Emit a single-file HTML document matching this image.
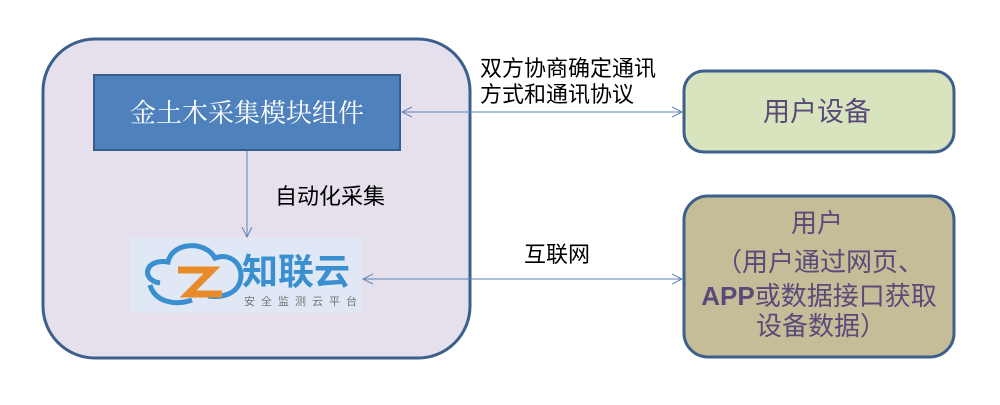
<!DOCTYPE html>
<html><head><meta charset="utf-8"><style>
body{margin:0;width:1000px;height:400px;background:#fff;overflow:hidden;font-family:"Liberation Sans","Noto Sans CJK SC",sans-serif}
</style></head><body>
<svg width="1000" height="400" xmlns="http://www.w3.org/2000/svg">
<defs>
<marker id="a" markerWidth="12" markerHeight="12" refX="10" refY="6" orient="auto-start-reverse" markerUnits="userSpaceOnUse">
<path d="M0,1 L10,6 L0,11" fill="none" stroke="#5b83b8" stroke-width="1"/></marker>
</defs>
<rect x="43" y="39" width="427" height="319" rx="52" fill="#e5e0ec" stroke="#3d5f8c" stroke-width="3"/>
<rect x="94" y="75" width="306" height="75" fill="#4f81bd" stroke="#385d8a" stroke-width="2"/>
<text x="247" y="122" font-size="26" fill="#fff" text-anchor="middle" font-family="'Noto Serif CJK SC',serif">金土木采集模块组件</text>
<line x1="247" y1="151" x2="247" y2="237" stroke="#5b83b8" stroke-width="1" marker-end="url(#a)"/>
<text x="275" y="204" font-size="22" fill="#000">自动化采集</text>
<rect x="131" y="238" width="231" height="75" fill="#dfe8f4"/>
<path d="M160,283 C140,280 145,258 168,262 C172,242 205,240 215,258 C230,252 245,265 240,282 C236,294 222,298 208,296" fill="none" stroke="#3a8fd0" stroke-width="5"/>
<path d="M150,285 C155,302 175,306 192,300" fill="none" stroke="#3a8fd0" stroke-width="5"/>
<path d="M178,270 L212,270 L188,294 L222,294" fill="none" stroke="#e98b2a" stroke-width="7"/>
<text x="242" y="284" font-size="36" font-weight="bold" fill="#3a8fd0">知联云</text>
<text x="244" y="305" font-size="11" fill="#777" letter-spacing="6">安全监测云平台</text>
<line x1="402" y1="112" x2="682" y2="112" stroke="#5b83b8" stroke-width="1" marker-start="url(#a)" marker-end="url(#a)"/>
<text x="480" y="76" font-size="22" fill="#000">双方协商确定通讯</text>
<text x="480" y="102" font-size="22" fill="#000">方式和通讯协议</text>
<line x1="363" y1="279" x2="682" y2="279" stroke="#5b83b8" stroke-width="1" marker-start="url(#a)" marker-end="url(#a)"/>
<text x="524" y="262" font-size="22" fill="#000">互联网</text>
<rect x="684" y="71" width="270" height="81" rx="20" fill="#d7e4bd" stroke="#3d5f8c" stroke-width="3"/>
<text x="817" y="121" font-size="27" fill="#5a4a7a" text-anchor="middle">用户设备</text>
<rect x="684" y="196" width="270" height="161" rx="24" fill="#c4bd97" stroke="#3d5f8c" stroke-width="3"/>
<g font-size="26" fill="#5a4a7a" text-anchor="middle">
<text x="817" y="232">用户</text>
<text x="820" y="271">（用户通过网页、</text>
<text x="819" y="305"><tspan font-weight="bold">APP</tspan>或数据接口获取</text>
<text x="821" y="335">设备数据）</text>
</g>
</svg>
</body></html>
